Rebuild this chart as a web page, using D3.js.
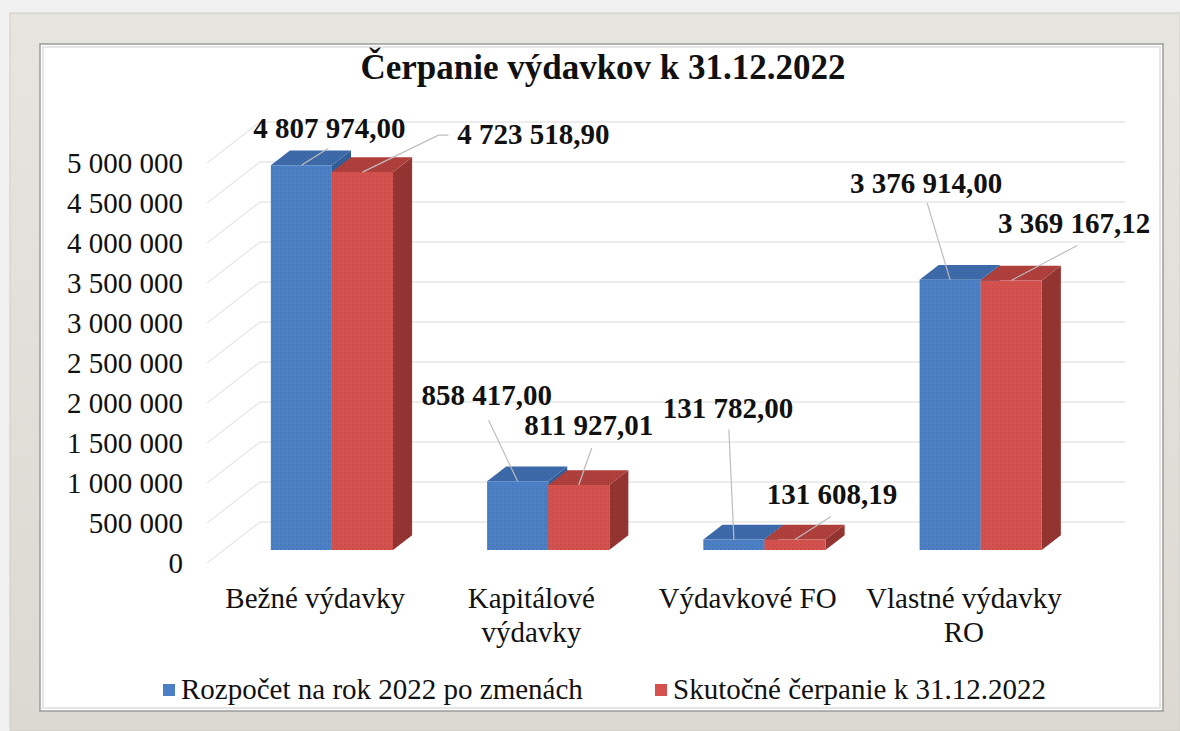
<!DOCTYPE html>
<html>
<head>
<meta charset="utf-8">
<script src="https://cdn.jsdelivr.net/npm/d3@7"></script>
<style>
  html, body { margin: 0; padding: 0; background: #f1f1f1; }
  svg { display: block; }
</style>
</head>
<body>
<svg id="chart" width="1180" height="731"></svg>
<script>
// ---------------- DATA ----------------
const title = "Čerpanie výdavkov k 31.12.2022";
const categories = ["Bežné výdavky", "Kapitálové výdavky", "Výdavkové FO", "Vlastné výdavky RO"];
const categoryLines = [["Bežné výdavky"], ["Kapitálové", "výdavky"], ["Výdavkové FO"], ["Vlastné výdavky", "RO"]];
const seriesNames = ["Rozpočet na rok 2022 po zmenách", "Skutočné čerpanie k 31.12.2022"];
const budget = [4807974.00, 858417.00, 131782.00, 3376914.00];
const actual = [4723518.90, 811927.01, 131608.19, 3369167.12];
const yTicks = [0, 500000, 1000000, 1500000, 2000000, 2500000, 3000000, 3500000, 4000000, 4500000, 5000000];

// ---------------- STYLE / LAYOUT ----------------
const FONT = '"Liberation Serif"';
const colors = {
  front: ["#4b80c6", "#d5514d"],
  top:   ["#3c6aab", "#b13f3c"],
  side:  ["#345e99", "#963431"]
};
// label offsets relative to bar front-top centre: [labelDx, labelDy(baseline), leaderDx, leaderDy]
const labelOffsets = [
  [[28, -27, 27, -17], [171, -28, 86, -37]],
  [[-31, -76, -29, -61], [10, -50, 13, -37]],
  [[-6, -121, -5, -110], [37, -35, 36, -23]],
  [[-24, -87, -23, -77], [63, -47, 66, -35]]
];
const leaderKnee = [[null, [76, -37]], [null, null], [null, null], [null, null]];

const svg = d3.select("#chart");
const W = 1180, H = 731;

const locale = d3.formatLocale({decimal: ",", thousands: " ", grouping: [3], currency: ["", ""]});
const fmtVal = locale.format(",.2f");
const fmtTick = locale.format(",d");

// ---------------- FRAME ----------------
const defs = svg.append("defs");
const fg = defs.append("linearGradient").attr("id", "frameGrad").attr("x1", 0).attr("y1", 0).attr("x2", 0).attr("y2", 1);
fg.append("stop").attr("offset", "0%").attr("stop-color", "#e7e5df");
fg.append("stop").attr("offset", "100%").attr("stop-color", "#dbd9d2");
svg.append("rect").attr("x", 0).attr("y", 0).attr("width", W).attr("height", H).attr("fill", "#f0f0f0");
svg.append("rect").attr("x", 10).attr("y", 13).attr("width", W - 10).attr("height", H - 13)
  .attr("fill", "url(#frameGrad)").attr("stroke", "#cfcdc6").attr("stroke-width", 1);
svg.append("rect").attr("x", 40).attr("y", 44).attr("width", 1123).attr("height", 667)
  .attr("fill", "#ffffff").attr("stroke", "#9c9c9c").attr("stroke-width", 1.5);
svg.append("rect").attr("x", 43).attr("y", 47).attr("width", 1117).attr("height", 661)
  .attr("fill", "none").attr("stroke", "#e6e6e6").attr("stroke-width", 2);

// textures
["b", "r"].forEach((k, i) => {
  ["front", "top", "side"].forEach(face => {
    const p = defs.append("pattern").attr("id", `tex-${k}-${face}`).attr("patternUnits", "userSpaceOnUse")
      .attr("width", 4).attr("height", 4);
    p.append("rect").attr("width", 4).attr("height", 4).attr("fill", colors[face][i]);
    p.append("rect").attr("x", 0).attr("y", 0).attr("width", 1).attr("height", 1).attr("fill", "#000").attr("opacity", 0.12);
    p.append("rect").attr("x", 2).attr("y", 2).attr("width", 1).attr("height", 1).attr("fill", "#000").attr("opacity", 0.08);
  });
});

// ---------------- SCALES ----------------
const DX = 53, DY = 41;              // full depth projection
const frontDepth = 0.317, barDepth = 0.36;
const y = d3.scaleLinear().domain([0, 5000000]).range([563, 163]);
const x0 = d3.scaleBand().domain(categories).range([207, 1072]).paddingInner(0.435).paddingOuter(0.2175);
const x1 = d3.scaleBand().domain(seriesNames).range([0, x0.bandwidth()]).padding(0);
const proj = (px, v, d) => [px + DX * d, y(v) - DY * d];

// ---------------- GRID ----------------
const grid = svg.append("g");
yTicks.forEach(t => {
  const a = proj(207, t, 0), b = proj(207, t, 1), c = proj(1072, t, 1);
  grid.append("line").attr("x1", a[0]).attr("y1", a[1]).attr("x2", b[0]).attr("y2", b[1])
    .attr("stroke", "#dcdcdc").attr("stroke-width", 1);
  grid.append("line").attr("x1", b[0]).attr("y1", b[1]).attr("x2", c[0]).attr("y2", c[1])
    .attr("stroke", "#dadada").attr("stroke-width", 1);
});

const txt = sel => sel.style("font-family", FONT).attr("fill", "#111");

// y axis labels
svg.append("g").selectAll("text").data(yTicks).join("text")
  .call(txt)
  .attr("x", 183).attr("y", d => y(d)).attr("dy", "0.35em")
  .attr("text-anchor", "end").attr("font-size", 29)
  .text(d => fmtTick(d));

// ---------------- BARS ----------------
const series = [budget, actual];
const barsG = svg.append("g");
const keys = ["b", "r"];
const pts = arr => arr.map(p => p.join(",")).join(" ");
const barTops = [];
categories.forEach((cat, ci) => {
  barTops.push([]);
  series.forEach((vals, si) => {
    const v = vals[ci];
    const xl = x0(cat) + x1(seriesNames[si]);
    const xr = xl + x1.bandwidth();
    const d0 = frontDepth, d1 = frontDepth + barDepth;
    const fl0 = proj(xl, 0, d0), fr0 = proj(xr, 0, d0), flT = proj(xl, v, d0), frT = proj(xr, v, d0);
    const br0 = proj(xr, 0, d1), blT = proj(xl, v, d1), brT = proj(xr, v, d1);
    const k = keys[si];
    barsG.append("polygon").attr("points", pts([fr0, br0, brT, frT])).attr("fill", `url(#tex-${k}-side)`);
    barsG.append("polygon").attr("points", pts([flT, frT, brT, blT])).attr("fill", `url(#tex-${k}-top)`);
    barsG.append("polygon").attr("points", pts([fl0, fr0, frT, flT])).attr("fill", `url(#tex-${k}-front)`);
    barTops[ci].push([(flT[0] + frT[0]) / 2, flT[1], v]);
  });
});

// ---------------- LABELS ----------------
const labG = svg.append("g");
categories.forEach((cat, ci) => {
  series.forEach((vals, si) => {
    const [bx, by, v] = barTops[ci][si];
    const o = labelOffsets[ci][si];
    const linePts = [[bx, by]];
    const knee = leaderKnee[ci][si];
    if (knee) linePts.push([bx + knee[0], by + knee[1]]);
    linePts.push([bx + o[2], by + o[3]]);
    labG.append("polyline").attr("points", pts(linePts)).attr("fill", "none")
      .attr("stroke", "#bdbdbd").attr("stroke-width", 1.2);
    labG.append("text").call(txt).attr("x", bx + o[0]).attr("y", by + o[1])
      .attr("text-anchor", "middle").attr("font-size", 29).attr("font-weight", "bold")
      .text(fmtVal(v));
  });
});

// category labels
categories.forEach((cat, ci) => {
  const cx = x0(cat) + x0.bandwidth() / 2;
  const t = svg.append("text").call(txt).attr("x", cx).attr("y", 608).attr("text-anchor", "middle").attr("font-size", 29);
  categoryLines[ci].forEach((ln, li) => {
    t.append("tspan").attr("x", cx).attr("dy", li === 0 ? 0 : 34).text(ln);
  });
});

// title
svg.append("text").call(txt).attr("x", 603).attr("y", 79).attr("text-anchor", "middle")
  .attr("font-size", 35).attr("font-weight", "bold").text(title);

// legend
const legendX = [163, 655];
seriesNames.forEach((s, si) => {
  svg.append("rect").attr("x", legendX[si]).attr("y", 684).attr("width", 12).attr("height", 12)
    .attr("fill", colors.front[si]);
  svg.append("text").call(txt).attr("x", legendX[si] + 18).attr("y", 699).attr("font-size", 29).text(s);
});
</script>
</body>
</html>
